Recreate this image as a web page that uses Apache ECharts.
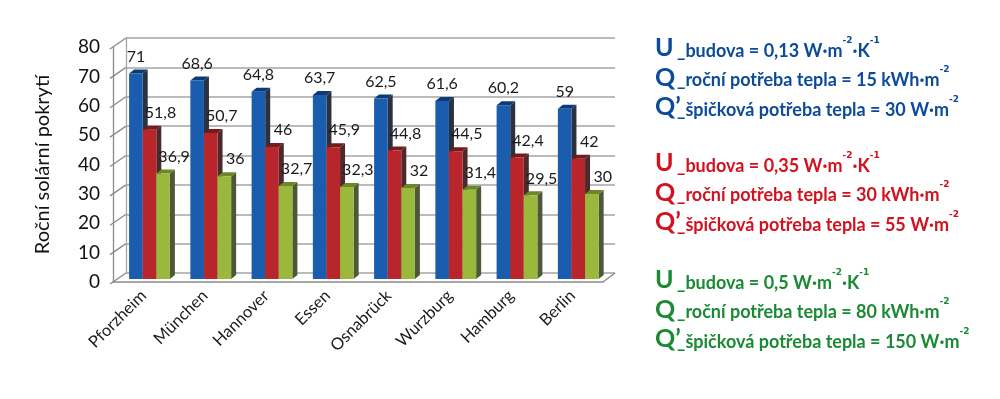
<!DOCTYPE html>
<html>
<head>
<meta charset="utf-8">
<script src="https://cdn.jsdelivr.net/npm/echarts@6/dist/echarts.min.js"></script>
<style>
  html, body { margin: 0; padding: 0; background: #fff; }
  #main { width: 1000px; height: 399px; }
</style>
</head>
<body>
<div id="main"></div>
<script>
// data
var cities = ['Pforzheim', 'München', 'Hannover', 'Essen', 'Osnabrück', 'Wurzburg', 'Hamburg', 'Berlin'];
var u013 = [71, 68.6, 64.8, 63.7, 62.5, 61.6, 60.2, 59];
var u035 = [51.8, 50.7, 46, 45.9, 44.8, 44.5, 42.4, 42];
var u05 = [36.9, 36, 32.7, 32.3, 32, 31.4, 29.5, 30];
var yTicks = [0, 10, 20, 30, 40, 50, 60, 70, 80];

// legend texts (big letter, then text / superscript alternating)
var legendBlue = [
  ['U', ['_budova = 0,13 W·m', '-2', '·K', '-1']],
  ['Q', ['_roční potřeba tepla = 15 kWh·m', '-2']],
  ['Q’', ['_špičková potřeba tepla = 30 W·m', '-2']]
];
var legendRed = [
  ['U', ['_budova = 0,35 W·m', '-2', '·K', '-1']],
  ['Q', ['_roční potřeba tepla = 30 kWh·m', '-2']],
  ['Q’', ['_špičková potřeba tepla = 55 W·m', '-2']]
];
var legendGreen = [
  ['U', ['_budova = 0,5 W·m', '-2', '·K', '-1']],
  ['Q', ['_roční potřeba tepla = 80 kWh·m', '-2']],
  ['Q’', ['_špičková potřeba tepla = 150 W·m', '-2']]
];

var colors = [
  { front: '#1a5cae', top: '#0c3a78', side: '#2c3140' },
  { front: '#b8262b', top: '#761a1e', side: '#4a2a2c' },
  { front: '#9ab83c', top: '#6c8728', side: '#4d5838' }
];

var chart = echarts.init(document.getElementById('main'));

function fmt(v) {
  return String(v).replace('.', ',');
}

function barRender(si, shift) {
  return function (params, api) {
    var idx = api.value(0);
    var v = api.value(1);
    var base = api.coord([idx, 0]);
    var top = api.coord([idx, v]);
    var band = api.size([1, 0])[0];
    var w = band * 0.222;
    var x = base[0] - band * 0.237 + si * w;
    var y0 = base[1] - 3;
    var y1 = top[1];
    var dx = 5, dy = -4;
    var c = colors[si];
    return {
      type: 'group',
      children: [
        { type: 'polygon', shape: { points: [[x + w, y1], [x + w + dx, y1 + dy], [x + w + dx, y0 + dy], [x + w, y0]] }, style: { fill: c.side } },
        { type: 'polygon', shape: { points: [[x, y1], [x + dx, y1 + dy], [x + w + dx, y1 + dy], [x + w, y1]] }, style: { fill: c.top } },
        { type: 'rect', shape: { x: x, y: y1, width: w, height: y0 - y1 }, style: { fill: c.front } },
        { type: 'text', style: { text: fmt(v), x: x + w / 2 + shift, y: y1 - 17, align: 'center', verticalAlign: 'middle', fontSize: 16, fontFamily: 'Lato', fill: '#1a1a1a' } }
      ]
    };
  };
}

function barSeries(vals, si, shift) {
  return {
    type: 'custom',
    xAxisIndex: 1,
    yAxisIndex: 1,
    encode: { x: 0, y: 1 },
    data: vals.map(function (v, i) { return [i, v]; }),
    renderItem: barRender(si, shift),
    z: 5
  };
}

// left wall diagonals and floor right edge
var wallSeries = {
  type: 'custom',
  xAxisIndex: 1,
  yAxisIndex: 1,
  encode: { x: 0, y: 1 },
  data: yTicks.map(function (t) { return [0, t]; }),
  silent: true,
  z: 1,
  renderItem: function (params, api) {
    var p = api.coord([0, api.value(1)]);
    var band = api.size([1, 0])[0];
    var x = p[0] - band / 2;
    var children = [
      { type: 'line', shape: { x1: x - 3, y1: p[1] + 2, x2: x + 13, y2: p[1] - 9 }, style: { stroke: '#8a8a8a', lineWidth: 1.3 } }
    ];
    if (params.dataIndex === 0) {
      var xr = x + band * cities.length;
      children.push({ type: 'line', shape: { x1: xr, y1: p[1], x2: xr + 12, y2: p[1] - 9 }, style: { stroke: '#8a8a8a', lineWidth: 1.3 } });
    }
    return { type: 'group', children: children };
  }
};

function legendText(lines, color, y0) {
  return lines.map(function (ln, i) {
    var parts = ln[1];
    var txt = '{b|' + ln[0] + '}';
    parts.forEach(function (p, k) {
      txt += (k % 2 === 0 ? '{t|' : '{s|') + p + '}';
    });
    return {
      type: 'text',
      x: 655,
      y: y0 + i * 29.5,
      style: {
        text: txt,
        verticalAlign: 'middle',
        fill: color,
        rich: {
          b: { fontSize: 25, fontWeight: 'bold', fontFamily: 'Lato', fill: color, width: 22, lineHeight: 24 },
          t: { fontSize: 18, fontWeight: 'bold', fontFamily: 'Lato', fill: color, lineHeight: 20, verticalAlign: 'bottom' },
          s: { fontSize: 9, fontWeight: 'bold', fontFamily: 'DejaVu Sans', fill: color, lineHeight: 16, verticalAlign: 'top' }
        }
      }
    };
  });
}

var option = {
  animation: false,
  grid: [
    { left: 126, right: 385, top: 38, bottom: 126 },
    { left: 113, right: 397, top: 47, bottom: 117 }
  ],
  xAxis: [
    { gridIndex: 0, type: 'category', data: cities, show: false },
    {
      gridIndex: 1, type: 'category', data: cities,
      axisLine: { lineStyle: { color: '#8a8a8a', width: 1.5 } },
      axisTick: { length: 6, lineStyle: { color: '#555' } },
      axisLabel: { interval: 0, rotate: 45, margin: 11, fontSize: 16.5, fontFamily: 'Lato', color: '#1a1a1a' }
    }
  ],
  yAxis: [
    {
      gridIndex: 0, type: 'value', min: 0, max: 80, interval: 10,
      axisLabel: { show: false },
      axisTick: { show: false },
      axisLine: { show: true, lineStyle: { color: '#a5a5a5', width: 1.3 } },
      splitLine: { lineStyle: { color: '#a5a5a5', width: 1.6 } }
    },
    {
      gridIndex: 1, type: 'value', min: 0, max: 80, interval: 10,
      name: 'Roční solární pokrytí',
      nameLocation: 'middle',
      nameGap: 60,
      nameRotate: 90,
      nameTextStyle: { fontSize: 20, fontFamily: 'Lato', color: '#111' },
      axisLabel: { margin: 13, fontSize: 19, fontFamily: 'Lato', color: '#111' },
      axisTick: { show: false },
      axisLine: { show: true, lineStyle: { color: '#8a8a8a', width: 1.3 } },
      splitLine: { show: false }
    }
  ],
  graphic: []
    .concat(legendText(legendBlue, '#0c4a9a', 48))
    .concat(legendText(legendRed, '#d2121e', 163))
    .concat(legendText(legendGreen, '#1a8a34', 280)),
  series: [
    wallSeries,
    barSeries(u013, 0, 0),
    barSeries(u035, 1, 11),
    barSeries(u05, 2, 11)
  ]
};

chart.setOption(option);
</script>
</body>
</html>
